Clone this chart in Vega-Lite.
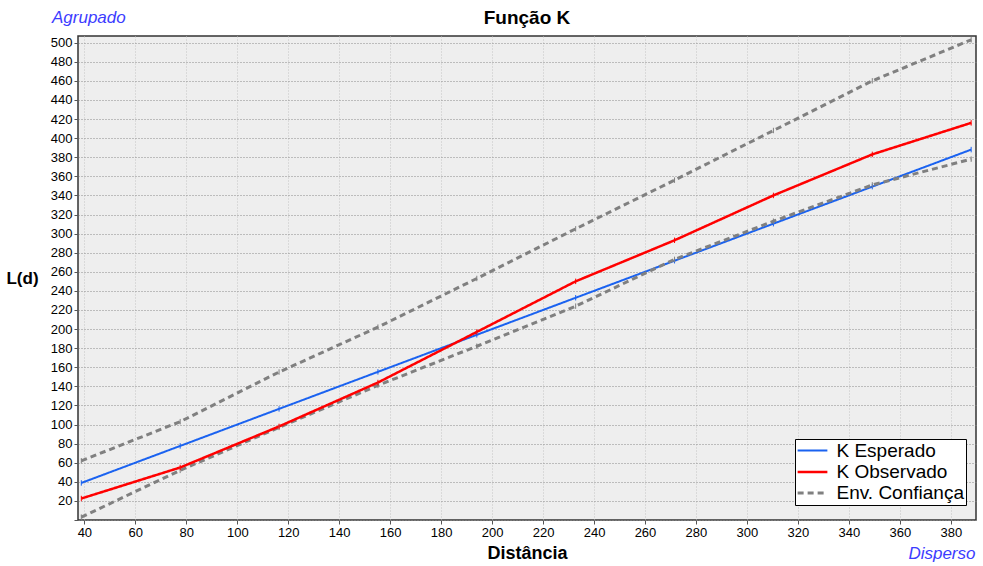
{
  "$schema": "https://vega.github.io/schema/vega-lite/v6.json",
  "width": 898,
  "height": 484,
  "autosize": {"type": "none"},
  "padding": {"left": 78, "top": 36, "right": 7, "bottom": 46},
  "background": "white",
  "config": {
    "font": "Liberation Sans",
    "view": {"fill": "#EEEEEE", "stroke": "#333333", "strokeWidth": 1.5}
  },
  "title": {
    "text": "Função K",
    "font": "Liberation Sans",
    "fontSize": 19,
    "fontWeight": "bold",
    "color": "black",
    "anchor": "middle",
    "frame": "group",
    "offset": -19
  },
  "data": {
    "values": [
      {"d": 38.8, "L": 38.8, "serie": "K Esperado", "grupo": "esp"},
      {"d": 77.6, "L": 77.6, "serie": "K Esperado", "grupo": "esp"},
      {"d": 116.4, "L": 116.4, "serie": "K Esperado", "grupo": "esp"},
      {"d": 155.2, "L": 155.2, "serie": "K Esperado", "grupo": "esp"},
      {"d": 194.0, "L": 194.0, "serie": "K Esperado", "grupo": "esp"},
      {"d": 232.8, "L": 232.8, "serie": "K Esperado", "grupo": "esp"},
      {"d": 271.6, "L": 271.6, "serie": "K Esperado", "grupo": "esp"},
      {"d": 310.4, "L": 310.4, "serie": "K Esperado", "grupo": "esp"},
      {"d": 349.2, "L": 349.2, "serie": "K Esperado", "grupo": "esp"},
      {"d": 388.0, "L": 388.0, "serie": "K Esperado", "grupo": "esp"},
      {"d": 38.8, "L": 62, "serie": "Env. Confiança", "grupo": "sup"},
      {"d": 77.6, "L": 103, "serie": "Env. Confiança", "grupo": "sup"},
      {"d": 116.4, "L": 155, "serie": "Env. Confiança", "grupo": "sup"},
      {"d": 155.2, "L": 202, "serie": "Env. Confiança", "grupo": "sup"},
      {"d": 194.0, "L": 253, "serie": "Env. Confiança", "grupo": "sup"},
      {"d": 232.8, "L": 305, "serie": "Env. Confiança", "grupo": "sup"},
      {"d": 271.6, "L": 356, "serie": "Env. Confiança", "grupo": "sup"},
      {"d": 310.4, "L": 408, "serie": "Env. Confiança", "grupo": "sup"},
      {"d": 349.2, "L": 460, "serie": "Env. Confiança", "grupo": "sup"},
      {"d": 388.0, "L": 503, "serie": "Env. Confiança", "grupo": "sup"},
      {"d": 38.8, "L": 3, "serie": "Env. Confiança", "grupo": "inf"},
      {"d": 77.6, "L": 52, "serie": "Env. Confiança", "grupo": "inf"},
      {"d": 116.4, "L": 97, "serie": "Env. Confiança", "grupo": "inf"},
      {"d": 155.2, "L": 141, "serie": "Env. Confiança", "grupo": "inf"},
      {"d": 194.0, "L": 182, "serie": "Env. Confiança", "grupo": "inf"},
      {"d": 232.8, "L": 224, "serie": "Env. Confiança", "grupo": "inf"},
      {"d": 271.6, "L": 273, "serie": "Env. Confiança", "grupo": "inf"},
      {"d": 310.4, "L": 313, "serie": "Env. Confiança", "grupo": "inf"},
      {"d": 349.2, "L": 351, "serie": "Env. Confiança", "grupo": "inf"},
      {"d": 388.0, "L": 378, "serie": "Env. Confiança", "grupo": "inf"},
      {"d": 38.8, "L": 22.5, "serie": "K Observado", "grupo": "obs"},
      {"d": 77.6, "L": 55, "serie": "K Observado", "grupo": "obs"},
      {"d": 116.4, "L": 98, "serie": "K Observado", "grupo": "obs"},
      {"d": 155.2, "L": 144, "serie": "K Observado", "grupo": "obs"},
      {"d": 194.0, "L": 197, "serie": "K Observado", "grupo": "obs"},
      {"d": 232.8, "L": 250, "serie": "K Observado", "grupo": "obs"},
      {"d": 271.6, "L": 293, "serie": "K Observado", "grupo": "obs"},
      {"d": 310.4, "L": 340, "serie": "K Observado", "grupo": "obs"},
      {"d": 349.2, "L": 383, "serie": "K Observado", "grupo": "obs"},
      {"d": 388.0, "L": 416, "serie": "K Observado", "grupo": "obs"}
    ]
  },
  "layer": [
    {
      "mark": {"type": "line", "clip": true},
      "encoding": {
        "x": {
          "field": "d", "type": "quantitative",
          "scale": {"domain": [37.5, 389.9], "nice": false, "zero": false},
          "axis": {
            "values": [40, 60, 80, 100, 120, 140, 160, 180, 200, 220, 240, 260, 280, 300, 320, 340, 360, 380],
            "tickCount": 40,
            "labelOverlap": false,
            "title": "Distância",
            "titleFont": "Liberation Sans",
            "titleFontSize": 18,
            "titleFontWeight": "bold",
            "titleColor": "black",
            "titlePadding": 5,
            "labelFont": "Liberation Sans",
            "labelFontSize": 13,
            "labelColor": "black",
            "labelPadding": 2,
            "tickSize": 4,
            "tickColor": "#555555",
            "domain": false,
            "grid": true,
            "gridColor": "#C4C4C4",
            "gridDash": [1, 2],
            "gridWidth": 1
          }
        },
        "y": {
          "field": "L", "type": "quantitative",
          "scale": {"domain": [0, 507], "nice": false, "zero": false},
          "axis": {
            "values": [0, 20, 40, 60, 80, 100, 120, 140, 160, 180, 200, 220, 240, 260, 280, 300, 320, 340, 360, 380, 400, 420, 440, 460, 480, 500],
            "tickCount": 60,
            "labelExpr": "datum.value == 0 ? '' : datum.label",
            "labelOverlap": false,
            "title": "L(d)",
            "titleAngle": 0,
            "titleX": -56,
            "titleY": 242,
            "titleAlign": "center",
            "titleBaseline": "middle",
            "titleFont": "Liberation Sans",
            "titleFontSize": 17,
            "titleFontWeight": "bold",
            "titleColor": "black",
            "labelFont": "Liberation Sans",
            "labelFontSize": 13,
            "labelColor": "black",
            "labelPadding": 2,
            "tickSize": 4,
            "tickColor": "#555555",
            "domain": false,
            "grid": true,
            "gridColor": "#8A8A8A",
            "gridDash": [1, 2],
            "gridWidth": 1
          }
        },
        "color": {
          "field": "serie", "type": "nominal",
          "scale": {
            "domain": ["K Esperado", "K Observado", "Env. Confiança"],
            "range": ["#1A62F0", "#FF0000", "#808080"]
          },
          "legend": {
            "title": null,
            "orient": "none",
            "legendX": 717,
            "legendY": 403,
            "fillColor": "white",
            "strokeColor": "black",
            "padding": 2,
            "cornerRadius": 0,
            "labelFont": "Liberation Sans",
            "labelFontSize": 19,
            "labelColor": "black",
            "labelOffset": 14,
            "symbolType": "M-1.75,0H1.75",
            "symbolSize": 289,
            "symbolOffset": 5.5,
            "rowPadding": 1
          }
        },
        "strokeDash": {
          "field": "serie", "type": "nominal",
          "scale": {
            "domain": ["K Esperado", "K Observado", "Env. Confiança"],
            "range": [[1, 0], [1, 0], [6, 4]]
          },
          "legend": null
        },
        "strokeWidth": {
          "field": "serie", "type": "nominal",
          "scale": {
            "domain": ["K Esperado", "K Observado", "Env. Confiança"],
            "range": [2, 3, 2.5]
          },
          "legend": null
        },
        "detail": {"field": "grupo", "type": "nominal"}
      }
    },
    {
      "mark": {"type": "point", "shape": "M0,-1V1", "size": 30, "filled": false, "strokeWidth": 1, "opacity": 1, "clip": true},
      "encoding": {
        "x": {"field": "d", "type": "quantitative"},
        "y": {"field": "L", "type": "quantitative"},
        "stroke": {
          "field": "serie", "type": "nominal",
          "scale": {
            "domain": ["K Esperado", "K Observado", "Env. Confiança"],
            "range": ["#1A62F0", "#FF0000", "#808080"]
          },
          "legend": null
        }
      }
    },
    {
      "data": {"values": [{"t": "Agrupado"}]},
      "mark": {"type": "text", "align": "left", "baseline": "middle", "font": "Liberation Sans", "fontSize": 17, "fontStyle": "italic", "color": "#3C3CFF"},
      "encoding": {
        "x": {"datum": 27.3, "type": "quantitative"},
        "y": {"datum": 526, "type": "quantitative"},
        "text": {"field": "t"}
      }
    },
    {
      "data": {"values": [{"t": "Disperso"}]},
      "mark": {"type": "text", "align": "right", "baseline": "middle", "font": "Liberation Sans", "fontSize": 17, "fontStyle": "italic", "color": "#3C3CFF"},
      "encoding": {
        "x": {"datum": 389.7, "type": "quantitative"},
        "y": {"datum": -35.5, "type": "quantitative"},
        "text": {"field": "t"}
      }
    }
  ]
}
